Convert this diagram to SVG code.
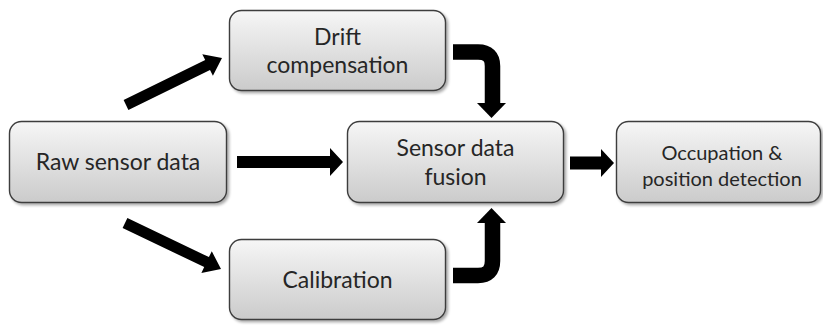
<svg xmlns="http://www.w3.org/2000/svg" width="823" height="325" viewBox="0 0 823 325">
  <defs>
    <linearGradient id="boxGrad" x1="0" y1="0" x2="0" y2="1">
      <stop offset="0" stop-color="#f6f6f6"/>
      <stop offset="1" stop-color="#cbcbcb"/>
    </linearGradient>
    <filter id="shadow" x="-10%" y="-10%" width="125%" height="130%">
      <feGaussianBlur in="SourceAlpha" stdDeviation="1.5"/>
      <feOffset dx="1.5" dy="2" result="b"/>
      <feComponentTransfer><feFuncA type="linear" slope="0.35"/></feComponentTransfer>
      <feMerge><feMergeNode/><feMergeNode in="SourceGraphic"/></feMerge>
    </filter>
  </defs>
  <style>
    .box { fill: url(#boxGrad); stroke: #3c3c3c; stroke-width: 1.4; filter: url(#shadow); }
    .lbl { font-family: Lato, "Open Sans", sans-serif; font-size: 23px; fill: #262626; text-anchor: middle; }
    .sm { font-size: 20px; }
    .arr { fill: #000; stroke: none; }
    .bar { fill: none; stroke: #000; stroke-width: 15.5; }
  </style>
  <rect width="823" height="325" fill="#fff"/>

  <g id="connectors">
    <polygon class="arr" points="123.6,100.1 205.2,60.1 202.3,54.2 222,58 212.9,75.8 210.0,69.9 128.4,109.9"/>
    <polygon class="arr" points="127.4,218.0 208.9,257.1 211.8,251.3 221,269 201.4,272.9 204.2,267.05 122.6,228.0"/>
    <polygon class="arr" points="237,156 330,156 330,148 343,162 330,176 330,168 237,168"/>
    <polygon class="arr" points="570,156.5 601,156.5 601,149 614,163 601,177 601,169.5 570,169.5"/>
    <path class="bar" d="M453,52 H478 Q492.5,52 492.5,66 V104"/>
    <polygon class="arr" points="477,103 506,103 491.5,118"/>
    <path class="bar" d="M453,275.5 H478 Q492.5,275.5 492.5,261 V222"/>
    <polygon class="arr" points="477,223 506,223 491.5,208"/>
  </g>

  <g id="drift">
    <rect class="box" x="229.5" y="10.5" width="216" height="80" rx="12"/>
    <text class="lbl" x="337.5" y="45">Drift</text>
    <text class="lbl" x="337.5" y="73">compensation</text>
  </g>
  <g id="raw">
    <rect class="box" x="9.5" y="121.5" width="217" height="81" rx="12"/>
    <text class="lbl" x="118" y="170">Raw sensor data</text>
  </g>
  <g id="fusion">
    <rect class="box" x="347.5" y="121.5" width="216" height="81" rx="12"/>
    <text class="lbl" x="455.5" y="156">Sensor data</text>
    <text class="lbl" x="455.5" y="185">fusion</text>
  </g>
  <g id="occupation">
    <rect class="box" x="616.5" y="121.5" width="204" height="81" rx="12"/>
    <text class="lbl sm" x="722" y="160">Occupation &amp;</text>
    <text class="lbl sm" x="722" y="186">position detection</text>
  </g>
  <g id="calibration">
    <rect class="box" x="229.5" y="239.5" width="216" height="80" rx="12"/>
    <text class="lbl" x="337.5" y="288">Calibration</text>
  </g>
</svg>
